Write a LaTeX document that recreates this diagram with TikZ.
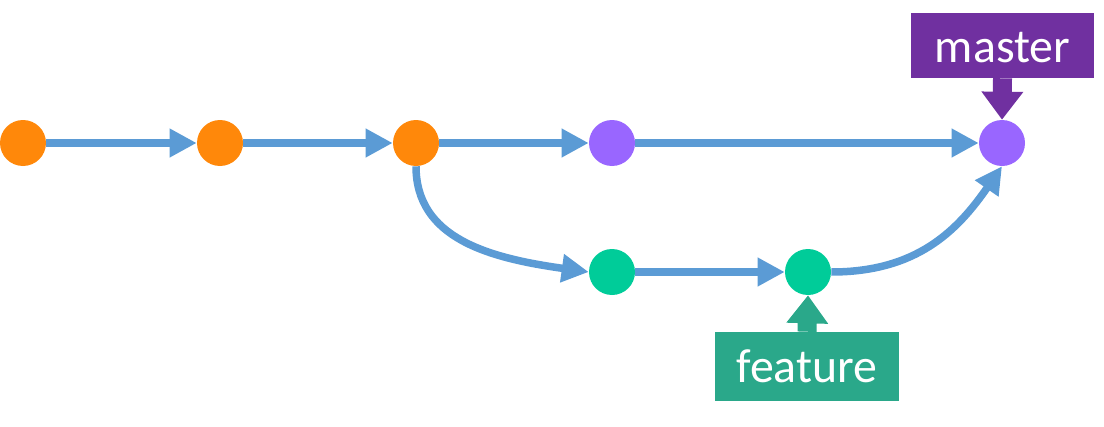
\documentclass[tikz,border=0pt]{standalone}
\usepackage{fontspec}
\setmainfont{Carlito}
\usetikzlibrary{arrows.meta}
\definecolor{ff8c0a}{RGB}{255,136,10}
\definecolor{aa66ff}{RGB}{153,102,255}
\definecolor{qqcc99}{RGB}{0,204,153}
\definecolor{bluelink}{RGB}{91,155,213}
\definecolor{masterbox}{RGB}{112,48,160}
\definecolor{featurebox}{RGB}{42,168,138}

\begin{document}
\begin{tikzpicture}[line cap=butt,line join=miter,x=0.025cm,y=0.025cm,
  commit/.style={circle,inner sep=0pt,minimum size=46*0.025cm},
  link/.style={draw=bluelink,line width=7.5*0.025cm,-{Triangle[length=27*0.025cm,width=27*0.025cm]}},
  tag/.style={inner sep=0pt,text=white,font=\fontsize{34}{40}\selectfont,text height=50*0.025cm},
  tagarrow/.style={line width=19*0.025cm,-{Triangle[length=28*0.025cm,width=40*0.025cm]}}]
      \useasboundingbox (0,0) rectangle (1104,-427);
      % commits
      \node[commit,fill=ff8c0a] (c1) at (23,-143) {};
      \node[commit,fill=ff8c0a] (c2) at (220,-143) {};
      \node[commit,fill=ff8c0a] (c3) at (416,-143) {};
      \node[commit,fill=aa66ff] (c4) at (612,-143) {};
      \node[commit,fill=aa66ff] (c5) at (1002,-143) {};
      \node[commit,fill=qqcc99] (g1) at (612,-272) {};
      \node[commit,fill=qqcc99] (g2) at (808,-272) {};
      % links
      \draw[link] (c1) -- (c2);
      \draw[link] (c2) -- (c3);
      \draw[link] (c3) -- (c4);
      \draw[link] (c4) -- (c5);
      \draw[link] (g1) -- (g2);
      \draw[link] (c3.south) .. controls +(0,-72) and +(-100,14) .. (g1.west);
      \draw[link] (g2.east) .. controls +(85,0) and +(-45,-65) .. (c5.south);
      % tags
      \node[tag,fill=masterbox,minimum width=183*0.025cm,text depth=15*0.025cm] (master) at (1002.5,-45.5) {master};
      \node[tag,fill=featurebox,minimum width=184*0.025cm,text depth=19*0.025cm] (feature) at (807,-366.5) {feature};
      \draw[tagarrow,draw=masterbox,fill=masterbox] (master.south) -- (c5.north);
      \draw[tagarrow,draw=featurebox,fill=featurebox] (feature.north) -- (g2.south);
    \end{tikzpicture}
\end{document}
